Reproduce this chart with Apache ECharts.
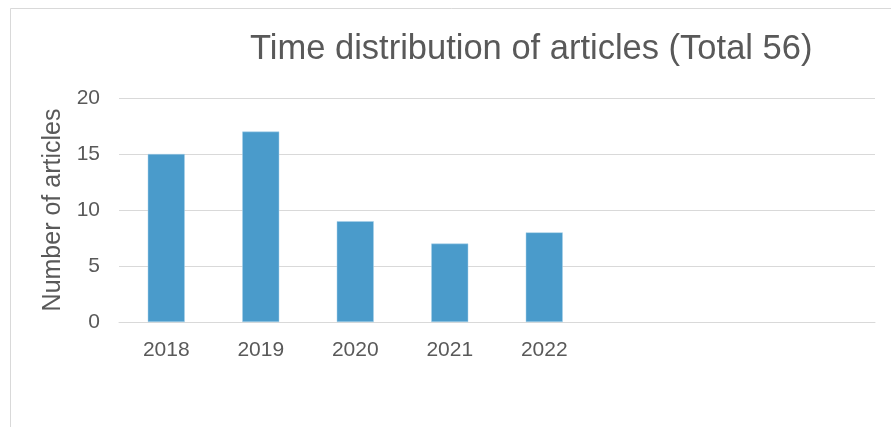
<!DOCTYPE html>
<html>
<head>
<meta charset="utf-8">
<script src="https://cdn.jsdelivr.net/npm/echarts@6/dist/echarts.min.js"></script>
<style>html,body{margin:0;padding:0;background:#fff}#c{width:891px;height:427px}</style>
</head>
<body>
<div id="c"></div>
<script>
var categories = ['2018', '2019', '2020', '2021', '2022', '', '', ''];
var articleCounts = [15, 17, 9, 7, 8, null, null, null];
var yTicks = [0, 5, 10, 15, 20];
var titleText = 'Time distribution of articles (Total 56)';
var yName = 'Number of articles';

var chart = echarts.init(document.getElementById('c'));
chart.setOption({
  backgroundColor: '#ffffff',
  animation: false,
  graphic: [{
    type: 'rect', shape: {x: 10.5, y: 8.5, width: 900, height: 440},
    style: {fill: 'none', stroke: '#d9d9d9', lineWidth: 1}, z: 0
  }],
  title: {
    text: titleText, left: 250, top: 32, padding: 0,
    textStyle: {fontFamily: 'Liberation Sans', fontSize: 34.5, fontWeight: 'normal', color: '#595959'}
  },
  grid: {left: 119, right: 16, top: 98, bottom: 105},
  xAxis: {
    type: 'category', data: categories,
    axisTick: {show: false},
    axisLine: {lineStyle: {color: '#d9d9d9', width: 1}},
    axisLabel: {fontFamily: 'Liberation Sans', fontSize: 21, color: '#595959', margin: 18}
  },
  yAxis: {
    type: 'value', min: yTicks[0], max: yTicks[yTicks.length - 1], interval: 5,
    name: yName, nameLocation: 'middle', nameGap: 49, nameRotate: 90,
    nameTextStyle: {fontFamily: 'Liberation Sans', fontSize: 25, color: '#595959'},
    axisLine: {show: false}, axisTick: {show: false},
    axisLabel: {fontFamily: 'Liberation Sans', fontSize: 21, color: '#595959', margin: 19},
    splitLine: {lineStyle: {color: '#d9d9d9', width: 1}}
  },
  series: [{
    type: 'bar', data: articleCounts, barWidth: 37,
    itemStyle: {color: '#4a9bcb', borderColor: '#a9d0e8', borderWidth: 0.5}
  }]
});
</script>
</body>
</html>
